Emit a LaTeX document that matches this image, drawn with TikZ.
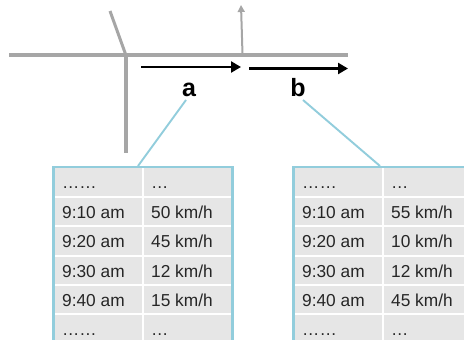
\documentclass[tikz,border=0pt]{standalone}
\usepackage{fontspec}
\setmainfont{Liberation Sans}
\usetikzlibrary{arrows.meta}
\definecolor{road}{HTML}{A6A6A6}
\definecolor{lead}{HTML}{92CDDC}
\definecolor{cellbg}{HTML}{E6E6E6}
\tikzset{
  road/.style={draw=road,line width=4pt},
  sideroad/.style={draw=road,line width=3pt},
  flow/.style={draw=black,line width=2.3pt,-{Triangle[length=10pt,width=11pt]}},
  leader/.style={draw=lead,line width=1.9pt},
  frame/.style={draw=lead,line width=2.2pt,fill=none,inner sep=0pt,outer sep=0pt,anchor=north west},
  lab/.style={font=\fontsize{25}{28}\selectfont\bfseries,inner sep=0pt,anchor=base},
  cell/.style={font=\fontsize{17.3}{20}\selectfont,text=black!85,inner sep=0pt,anchor=base west}
}
\newcommand{\tablegrid}[2]{% left edge, column divider
  \fill[cellbg] (#1,167) rectangle (#2+91,340);
  \foreach \yy in {197,226,256,285,314} \draw[white,line width=2pt] (#1,\yy) -- (#2+90,\yy);
  \draw[white,line width=2pt] (#2,167) -- (#2,340);
}
\begin{document}
\begin{tikzpicture}[x=1pt,y=-1pt]
\useasboundingbox (0,0) rectangle (464,340);
\clip (0,0) rectangle (464,340);
% roads
\coordinate (w) at (9,55); \coordinate (e) at (348,55);
\coordinate (j1) at (126,55); \coordinate (s) at (126,153);
\coordinate (nw) at (110,11); \coordinate (j1b) at (125.5,54);
\coordinate (j2) at (242.5,54); \coordinate (n) at (241,5);
\draw[road] (w) -- (e);
\draw[road] (j1) -- (s);
\draw[sideroad] (nw) -- (j1b);
\draw[draw=road,line width=2pt,-{Triangle[length=7pt,width=7pt]}] (j2) -- (n);
% flows
\coordinate (a1) at (141,67); \coordinate (a2) at (241,67);
\coordinate (b1) at (249,68.5); \coordinate (b2) at (348,68.5);
\draw[flow] (a1) -- (a2);
\draw[flow] (b1) -- (b2);
\node[lab] (labA) at (189,96) {a};
\node[lab] (labB) at (298,96) {b};
% table backgrounds
\tablegrid{53}{143}
\tablegrid{293}{383}
% frames
\node[frame,minimum width=179pt,minimum height=200pt] (tabA) at (53.5,167) {};
\node[frame,minimum width=200pt,minimum height=200pt] (tabB) at (293.5,167) {};
% leaders
\coordinate (la) at (186,100); \coordinate (ta) at (138,166);
\coordinate (lb) at (303,100); \coordinate (tb) at (380,166);
\draw[leader] (la) -- (ta);
\draw[leader] (lb) -- (tb);
% table a
\node[cell] (a00) at (62,188) {……}; \node[cell] (a01) at (151,188) {…};
\node[cell] (a10) at (62,218) {9:10 am}; \node[cell] (a11) at (151,218) {50 km/h};
\node[cell] (a20) at (62,247) {9:20 am}; \node[cell] (a21) at (151,247) {45 km/h};
\node[cell] (a30) at (62,277) {9:30 am}; \node[cell] (a31) at (151,277) {12 km/h};
\node[cell] (a40) at (62,306) {9:40 am}; \node[cell] (a41) at (151,306) {15 km/h};
\node[cell] (a50) at (62,335) {……}; \node[cell] (a51) at (151,335) {…};
% table b
\node[cell] (b00) at (302,188) {……}; \node[cell] (b01) at (391,188) {…};
\node[cell] (b10) at (302,218) {9:10 am}; \node[cell] (b11) at (391,218) {55 km/h};
\node[cell] (b20) at (302,247) {9:20 am}; \node[cell] (b21) at (391,247) {10 km/h};
\node[cell] (b30) at (302,277) {9:30 am}; \node[cell] (b31) at (391,277) {12 km/h};
\node[cell] (b40) at (302,306) {9:40 am}; \node[cell] (b41) at (391,306) {45 km/h};
\node[cell] (b50) at (302,335) {……}; \node[cell] (b51) at (391,335) {…};
\end{tikzpicture}
\end{document}
